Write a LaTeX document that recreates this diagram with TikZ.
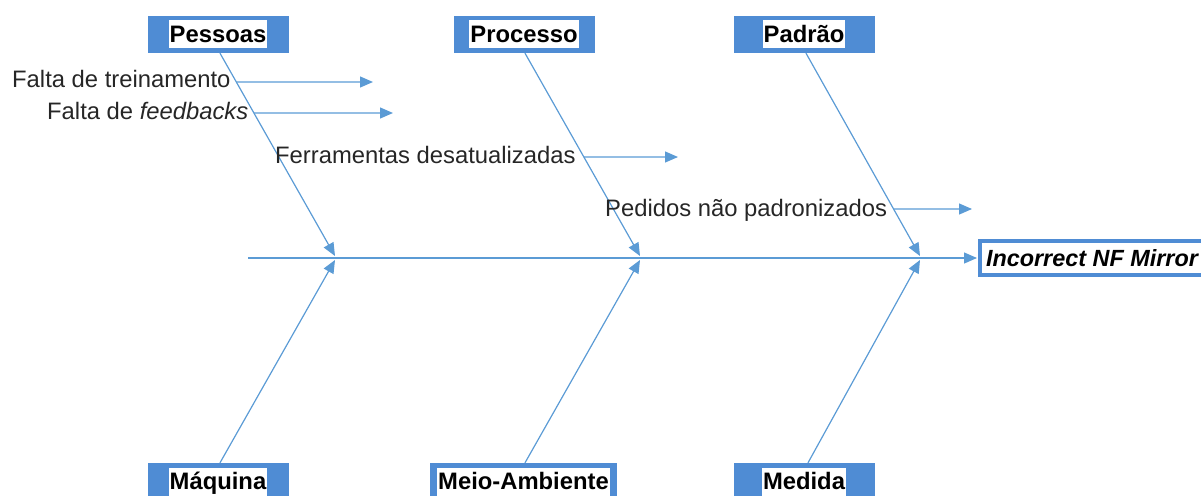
\documentclass[tikz,border=0pt]{standalone}
\usepackage{fontspec}
\setmainfont{Liberation Sans}
\usetikzlibrary{arrows.meta}
\definecolor{boxblue}{RGB}{79,140,212}
\definecolor{lineblue}{RGB}{91,155,213}
\begin{document}
\begin{tikzpicture}[x=1pt,y=-1pt,
  catbox/.style={fill=boxblue, minimum width=141pt, minimum height=37pt, inner sep=0pt},
  cattext/.style={fill=white, font=\fontsize{23.8}{26}\selectfont\bfseries, inner xsep=1pt, inner ysep=0pt, text height=22pt, text depth=6pt},
  cause/.style={font=\fontsize{23.8}{28}\selectfont, inner sep=0pt, anchor=base west, text=black!85},
  bone/.style={draw=lineblue, line width=1.2pt, -{Triangle[length=13pt,width=11pt]}},
  effect/.style={draw=boxblue, line width=4pt, fill=white, anchor=west, minimum height=34pt, inner xsep=6pt, inner ysep=0pt, font=\fontsize{23.4}{26}\selectfont\bfseries\itshape}
]
\useasboundingbox (0,0) rectangle (1201,495);
\clip (0,0) rectangle (1201,495);
% category boxes
\node[catbox] (pessoas) at (218,34.5) {};
\node[cattext] at (pessoas) {Pessoas};
\node[catbox] (processo) at (524,34.5) {};
\node[cattext] at (processo) {Processo};
\node[catbox] (padrao) at (804,34.5) {};
\node[cattext] at (padrao) {Padrão};
\node[catbox] (maquina) at (218,481.5) {};
\node[cattext] at (maquina) {Máquina};
\node[catbox, minimum width=187pt] (meio) at (523.5,481.5) {};
\node[cattext] at (meio) {Meio-Ambiente};
\node[catbox] (medida) at (804,481.5) {};
\node[cattext] at (medida) {Medida};
% effect
\node[effect] (effect) at (978,258) {Incorrect NF Mirror};
% spine
\coordinate (spinestart) at (248,258);
\draw[bone, shorten >=1pt] (spinestart) -- (effect.west);
% bone tips
\coordinate (t1) at (335,256);
\coordinate (t2) at (640,256);
\coordinate (t3) at (920,256);
\coordinate (b1) at (335,260);
\coordinate (b2) at (640,260);
\coordinate (b3) at (920,260);
\coordinate (ps) at ([xshift=2pt]pessoas.south);
\coordinate (prs) at ([xshift=1pt]processo.south);
\coordinate (pas) at ([xshift=2pt]padrao.south);
\coordinate (mqn) at ([xshift=2pt]maquina.north);
\coordinate (men) at ([xshift=1.5pt]meio.north);
\coordinate (mdn) at ([xshift=4pt]medida.north);
\draw[bone] (ps) -- (t1);
\draw[bone] (prs) -- (t2);
\draw[bone] (pas) -- (t3);
\draw[bone] (mqn) -- (b1);
\draw[bone] (men) -- (b2);
\draw[bone] (mdn) -- (b3);
% causes
\node[cause] (c1) at (12,87) {Falta de treinamento};
\node[cause] (c2) at (47,119) {Falta de \textit{feedbacks}};
\node[cause] (c3) at (275,163) {Ferramentas desatualizadas};
\node[cause] (c4) at (605,216) {Pedidos não padronizados};
\coordinate (s1) at (intersection of ps--t1 and 0,82--1000,82);
\coordinate (s2) at (intersection of ps--t1 and 0,113--1000,113);
\coordinate (s3) at (intersection of prs--t2 and 0,157--1000,157);
\coordinate (s4) at (intersection of pas--t3 and 0,209--1000,209);
\coordinate (e1) at (373,82);
\coordinate (e2) at (393,113);
\coordinate (e3) at (678,157);
\coordinate (e4) at (972,209);
\draw[bone] (s1) -- (e1);
\draw[bone] (s2) -- (e2);
\draw[bone] (s3) -- (e3);
\draw[bone] (s4) -- (e4);
\end{tikzpicture}
\end{document}
